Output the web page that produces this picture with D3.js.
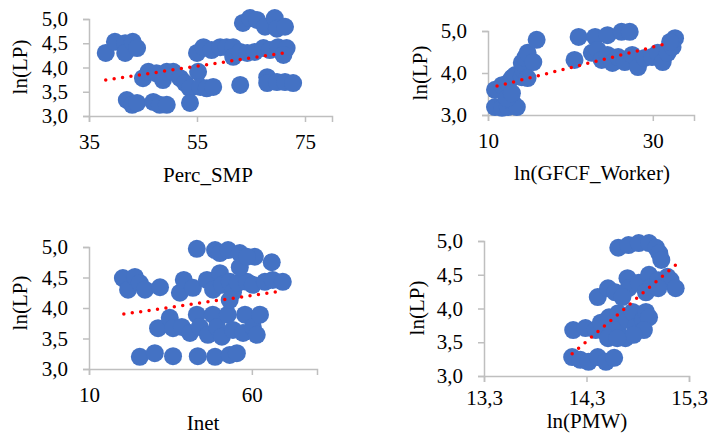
<!DOCTYPE html>
<html>
<head>
<meta charset="utf-8">
<script src="https://cdn.jsdelivr.net/npm/d3@7"></script>
<style>
  body { margin: 0; background: #fff; }
  text { font-family: "Liberation Serif", "Times New Roman", serif; fill: #000; }
</style>
</head>
<body>
<svg id="chart" width="709" height="436"></svg>
<script>
// Perc_SMP vs ln(LP)
var smpX = [38.1, 39.8, 41.7, 41.7, 43.1, 43.9, 42, 43, 43.9,
  45, 46, 47.5, 48.7, 49.4, 50.6, 51.9, 52.8, 53.7,
  46.9, 48.1, 49.4, 53.7, 55.2, 55.6, 56.8, 58,
  55, 56.2, 57.7, 59.3, 60.5, 61.7, 61.7, 63, 64.3, 63,
  63.5, 64.8, 66.1, 67.6, 69.4, 69.8, 71.3,
  65.7, 67.3, 68.5, 70, 71.6, 71,
  68, 68, 69.8, 71.3, 72.8];
var smpY = [4.30, 4.53, 4.50, 4.30, 4.53, 4.40, 3.33, 3.23, 3.27,
  3.78, 3.91, 3.88, 3.74, 3.91, 3.91, 3.78, 3.68, 3.57,
  3.29, 3.23, 3.23, 3.27, 3.91, 3.60, 3.57, 3.60,
  4.30, 4.42, 4.36, 4.42, 4.42, 4.42, 4.22, 4.32, 4.30, 3.64,
  4.92, 5.02, 4.98, 4.84, 5.02, 4.80, 4.84,
  4.32, 4.40, 4.36, 4.42, 4.40, 4.26,
  3.80, 3.68, 3.70, 3.70, 3.68];
var smpTrend = [[38.1, 3.74], [72.2, 4.32]];

// ln(GFCF_Worker) vs ln(LP)
var gfcfX = [10.85, 11.7, 12.4, 13.0, 13.5,
  10.85, 11.7, 12.4, 12.9, 13.3, 12.3, 12.9,
  14.1, 14.3, 14.1, 14.5, 14.8, 15.5, 14.8, 15.9,
  20.5, 21, 23, 24.5, 26.2, 27.2,
  22.6, 23.3, 23.8, 24.5, 25.1, 25.8, 26.6, 27.5, 28.2, 29.0, 29.9,
  30.6, 31.2, 31.8, 32.4, 32.7, 32.1];
var gfcfY = [3.19, 3.17, 3.19, 3.29, 3.19,
  3.60, 3.71, 3.76, 3.88, 3.95, 3.40, 3.52,
  3.90, 4.07, 4.24, 4.36, 4.48, 4.26, 3.88, 4.79,
  4.31, 4.86, 4.86, 4.90, 4.98, 4.98,
  4.48, 4.55, 4.31, 4.43, 4.24, 4.38, 4.26, 4.43, 4.14, 4.36, 4.38,
  4.48, 4.26, 4.48, 4.62, 4.83, 4.74];
var gfcfTrend = [[11.1, 3.69], [31.9, 4.71]];

// Inet vs ln(LP)
var inetX = [20.4, 22, 24.1, 25.6, 27.2, 31.8,
  25.6, 30.2, 35.8, 43.4, 48.7, 53.2, 55.4,
  31.2, 34.8, 35.8, 38.5, 41, 43.1, 44, 46.5, 48.0, 49.3, 50.8, 52.6, 54.2, 57.9, 57.3, 60.3, 61.5, 62.5,
  37.9, 39.1, 41.9, 46.2, 48.1, 50.2, 50.8, 53.2, 54.2, 55.7, 58.5, 60.3, 64, 66.4, 69.5, 53.2,
  43.1, 48.7, 50.2, 52.7, 56.3, 56.3, 60.9, 58.5, 66.1];
var inetY = [4.49, 4.30, 4.51, 4.41, 4.30, 4.34,
  3.20, 3.26, 3.21, 3.21, 3.20, 3.23, 3.26,
  3.67, 3.84, 3.67, 3.69, 3.59, 3.89, 3.69, 3.56, 3.89, 3.69, 3.53, 3.89, 3.64, 3.89, 3.59, 3.69, 3.56, 3.89,
  4.25, 4.46, 4.33, 4.46, 4.30, 4.57, 4.38, 4.43, 4.26, 4.41, 4.43, 4.38, 4.43, 4.46, 4.43, 4.13,
  4.97, 4.95, 4.90, 4.95, 4.90, 4.67, 4.84, 4.84, 4.75];
var inetTrend = [[20.7, 3.90], [69.5, 4.28]];

// ln(PMW) vs ln(LP)
var pmwX = [14.16, 14.24, 14.32, 14.41, 14.49, 14.57,
  14.17, 14.29, 14.39, 14.44, 14.52, 14.54, 14.61, 14.6, 14.68, 14.7, 14.75, 14.78, 14.85, 14.88, 14.91, 14.86, 14.76, 14.51, 14.6,
  14.41, 14.51, 14.58, 14.7, 14.71, 14.81, 14.91, 14.93, 15.0, 15.09, 15.12, 15.17, 14.88, 14.65, 15.0,
  14.61, 14.71, 14.81, 14.91, 14.98, 15.01, 15.03];
var pmwY = [3.28, 3.24, 3.21, 3.28, 3.21, 3.27,
  3.68, 3.71, 3.68, 3.79, 3.87, 3.64, 3.93, 3.68, 3.56, 3.83, 3.95, 3.73, 3.83, 3.95, 3.87, 3.68, 3.61, 3.56, 3.56,
  4.17, 4.30, 4.24, 4.45, 4.30, 4.38, 4.50, 4.32, 4.42, 4.47, 4.42, 4.30, 4.24, 4.17, 4.30,
  4.90, 4.94, 4.97, 4.97, 4.90, 4.82, 4.72];
var pmwTrend = [[14.16, 3.33], [15.18, 4.66]];

var svg = d3.select("#chart");
var comma = function(f) { return function(d) { return d3.format(f)(d).replace(".", ","); }; };

var panels = [
  {xs: smpX, ys: smpY, trend: smpTrend, xLabel: "Perc_SMP",
   xDom: [35, 80], xRange: [89, 332], yRange: [116, 19],
   xTicks: [35, 55, 75], yTicks: [3, 3.5, 4, 4.5, 5], xFmt: "d", xPad: 12,
   xLab: [208, 182], yLab: [20, 67]},
  {xs: gfcfX, ys: gfcfY, trend: gfcfTrend, xLabel: "ln(GFCF_Worker)",
   xDom: [10, 35], xRange: [488, 694], yRange: [115, 31],
   xTicks: [10, 30], yTicks: [3, 4, 5], xFmt: "d", xPad: 12,
   xLab: [592, 180], yLab: [420, 73]},
  {xs: inetX, ys: inetY, trend: inetTrend, xLabel: "Inet",
   xDom: [10, 80], xRange: [89, 317], yRange: [369, 247],
   xTicks: [10, 60], yTicks: [3, 3.5, 4, 4.5, 5], xFmt: "d", xPad: 12,
   xLab: [203, 430], yLab: [20, 303]},
  {xs: pmwX, ys: pmwY, trend: pmwTrend, xLabel: "ln(PMW)",
   xDom: [13.3, 15.3], xRange: [484, 689], yRange: [376, 241],
   xTicks: [13.3, 14.3, 15.3], yTicks: [3, 3.5, 4, 4.5, 5], xFmt: ".1f", xPad: 8,
   xLab: [587, 428], yLab: [417, 308]}
];

panels.forEach(function(p) {
  var x = d3.scaleLinear().domain(p.xDom).range(p.xRange);
  var y = d3.scaleLinear().domain([3, 5]).range(p.yRange);
  var g = svg.append("g");

  var xAxis = g.append("g")
    .attr("transform", "translate(0," + p.yRange[0] + ")")
    .call(d3.axisBottom(x).tickValues(p.xTicks).tickSize(6).tickPadding(p.xPad).tickFormat(comma(p.xFmt)));
  var yAxis = g.append("g")
    .attr("transform", "translate(" + p.xRange[0] + ",0)")
    .call(d3.axisLeft(y).tickValues(p.yTicks).tickSize(6).tickPadding(15).tickFormat(comma(".1f")));

  [xAxis, yAxis].forEach(function(a) {
    a.select(".domain").attr("stroke", "#bfbfbf").attr("stroke-width", 1.5);
    a.selectAll(".tick line").attr("stroke", "#bfbfbf").attr("stroke-width", 1.5);
    a.selectAll(".tick text").attr("font-size", 21).attr("font-family", "Liberation Serif").attr("fill", "#000");
  });

  var pts = p.xs.map(function(d, i) { return [d, p.ys[i]]; });
  g.append("g").selectAll("circle")
    .data(pts)
    .enter().append("circle")
      .attr("cx", function(d) { return x(d[0]); })
      .attr("cy", function(d) { return y(d[1]); })
      .attr("r", 9)
      .attr("fill", "#4472c4");

  g.append("path")
    .datum(p.trend)
    .attr("fill", "none")
    .attr("stroke", "#ff0000")
    .attr("stroke-width", 3.5)
    .attr("stroke-linecap", "round")
    .attr("stroke-dasharray", "0 8.5")
    .attr("d", d3.line().x(function(d) { return x(d[0]); }).y(function(d) { return y(d[1]); }));

  g.append("text")
    .attr("x", p.xLab[0]).attr("y", p.xLab[1])
    .attr("text-anchor", "middle")
    .attr("font-size", 21)
    .text(p.xLabel);

  g.append("text")
    .attr("transform", "translate(" + p.yLab[0] + "," + p.yLab[1] + ") rotate(-90)")
    .attr("text-anchor", "middle")
    .attr("dy", "0.35em")
    .attr("font-size", 21)
    .text("ln(LP)");
});
</script>
</body>
</html>
